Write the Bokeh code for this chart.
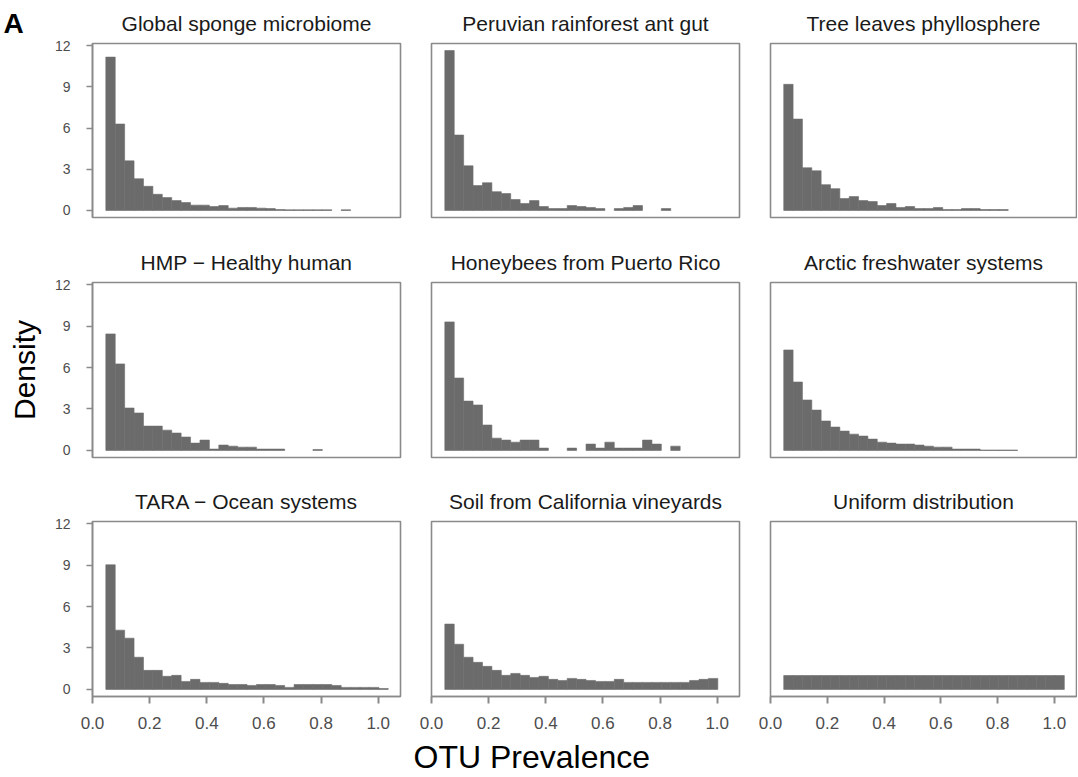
from bokeh.plotting import figure
from bokeh.layouts import row, column
from bokeh.models import Range1d, FixedTicker, PrintfTickFormatter
from bokeh.embed import file_html
from bokeh.resources import INLINE

# ---- data ----
panel_titles = [
    "Global sponge microbiome", "Peruvian rainforest ant gut", "Tree leaves phyllosphere",
    "HMP \u2212 Healthy human", "Honeybees from Puerto Rico", "Arctic freshwater systems",
    "TARA \u2212 Ocean systems", "Soil from California vineyards", "Uniform distribution",
]
bin_start = 0.0466
bin_width = 0.03295
n_bins = 30

sponge = [11.16, 6.29, 3.61, 2.31, 1.76, 1.18, 0.94, 0.72, 0.58, 0.39, 0.39, 0.29, 0.36, 0.17, 0.22,
          0.22, 0.17, 0.14, 0.07, 0.05, 0.05, 0.05, 0.05, 0.05, 0.0, 0.05, 0.0, 0.0, 0.0, 0.0]
ant_gut = [11.64, 5.49, 3.25, 1.81, 2.02, 1.37, 1.23, 0.80, 0.51, 0.72, 0.29, 0.14, 0.14, 0.36, 0.29,
           0.22, 0.14, 0.0, 0.14, 0.22, 0.36, 0.0, 0.0, 0.14, 0.0, 0.0, 0.0, 0.0, 0.0, 0.0]
tree_leaves = [9.18, 6.65, 3.11, 2.89, 1.88, 1.59, 0.87, 1.01, 0.72, 0.65, 0.36, 0.51, 0.22, 0.29, 0.14,
               0.14, 0.22, 0.07, 0.07, 0.14, 0.14, 0.07, 0.07, 0.07, 0.0, 0.0, 0.0, 0.0, 0.0, 0.0]
hmp = [8.43, 6.26, 3.07, 2.71, 1.76, 1.76, 1.47, 1.26, 0.97, 0.53, 0.75, 0.10, 0.39, 0.31, 0.24,
       0.24, 0.10, 0.10, 0.10, 0.0, 0.0, 0.0, 0.07, 0.0, 0.0, 0.0, 0.0, 0.0, 0.0, 0.0]
honeybees = [9.30, 5.24, 3.57, 3.29, 1.84, 0.89, 0.75, 0.60, 0.75, 0.75, 0.17, 0.0, 0.0, 0.17, 0.0,
             0.46, 0.17, 0.60, 0.17, 0.17, 0.17, 0.75, 0.46, 0.0, 0.31, 0.0, 0.0, 0.0, 0.0, 0.0]
arctic = [7.27, 4.95, 3.65, 2.92, 2.13, 1.69, 1.40, 1.18, 1.04, 0.82, 0.60, 0.53, 0.46, 0.46, 0.39,
          0.31, 0.24, 0.24, 0.10, 0.10, 0.10, 0.03, 0.03, 0.03, 0.03, 0.0, 0.0, 0.0, 0.0, 0.0]
tara = [9.02, 4.29, 3.71, 2.33, 1.38, 1.38, 0.95, 1.02, 0.58, 0.73, 0.51, 0.51, 0.44, 0.36, 0.36,
        0.29, 0.36, 0.36, 0.29, 0.15, 0.36, 0.36, 0.36, 0.36, 0.29, 0.15, 0.15, 0.15, 0.15, 0.07]
soil = [4.73, 3.27, 2.33, 1.96, 1.67, 1.38, 1.02, 1.16, 1.02, 0.87, 0.95, 0.73, 0.65, 0.80, 0.73,
        0.65, 0.58, 0.58, 0.73, 0.51, 0.51, 0.51, 0.51, 0.51, 0.51, 0.51, 0.65, 0.73, 0.80, 0.0]
uniform = [1.01] * 30

densities = [sponge, ant_gut, tree_leaves, hmp, honeybees, arctic, tara, soil, uniform]
y_ticks = [0, 3, 6, 9, 12]
x_ticks = [0.0, 0.2, 0.4, 0.6, 0.8, 1.0]

# ---- layout ----
BAR = "#6b6b6b"
BORDER = "#8a8a8a"
A_W = 30
col_params = [(92, 308, 15), (16, 308, 15), (16, 306, 1)]   # left border, frame width, right border
row_params = [(42, 175, 20), (45, 175, 19), (45, 175, 40)]  # top border, frame height, bottom border

edges = [bin_start + i * bin_width for i in range(n_bins + 1)]


def blank_fig(w, h, text, size, bold, offset, standoff):
    f = figure(width=w, height=h, output_backend="svg", toolbar_location=None, tools="",
               min_border_left=0, min_border_right=0, min_border_top=0, min_border_bottom=0,
               x_axis_location=None, y_axis_location=None,
               x_range=Range1d(0, 1), y_range=Range1d(0, 1))
    f.title.text = text
    f.title.align = "left"
    f.title.offset = offset
    f.title.standoff = standoff
    f.title.text_font = "Liberation Sans"
    f.title.text_font_size = size
    f.title.text_font_style = "bold" if bold else "normal"
    f.title.text_color = "black"
    f.grid.visible = False
    f.outline_line_color = None
    f.background_fill_color = "white"
    f.border_fill_color = "white"
    return f


rows = []
for r in range(3):
    figs = []
    for c in range(3):
        k = r * 3 + c
        bl, fw, br = col_params[c]
        if r == 0 and c == 0:
            bl -= A_W
        bt, fh, bb = row_params[r]
        p = figure(width=bl + fw + br, height=bt + fh + bb,
                   x_range=Range1d(0.0, 1.078), y_range=Range1d(-0.51, 12.15),
                   output_backend="svg", toolbar_location=None, tools="",
                   min_border_left=bl, min_border_right=br,
                   min_border_top=bt, min_border_bottom=bb,
                   x_axis_location="below" if r == 2 else None,
                   y_axis_location="left" if c == 0 else None)
        p.title.text = panel_titles[k]
        p.title.align = "center"
        p.title.text_font = "Liberation Sans"
        p.title.text_font_size = "21px"
        p.title.text_font_style = "normal"
        p.title.text_color = "#1a1a1a"
        p.title.standoff = 17
        p.grid.visible = False
        p.outline_line_color = BORDER
        p.outline_line_width = 1.6
        p.background_fill_color = "white"
        p.border_fill_color = "white"

        d = densities[k]
        left = [edges[i] for i in range(n_bins) if d[i] > 0]
        right = [edges[i + 1] for i in range(n_bins) if d[i] > 0]
        top = [d[i] for i in range(n_bins) if d[i] > 0]
        p.quad(left=left, right=right, top=top, bottom=0, fill_color=BAR,
               line_color=BAR, line_width=0.6)

        if c == 0:
            ax = p.yaxis[0]
            ax.ticker = FixedTicker(ticks=y_ticks)
            ax.axis_line_color = BORDER
            ax.axis_line_width = 1.6
            ax.major_tick_line_color = BORDER
            ax.major_tick_line_width = 1.6
            ax.major_tick_out = 6
            ax.major_tick_in = 0
            ax.minor_tick_line_color = None
            ax.major_label_text_font = "Liberation Sans"
            ax.major_label_text_font_size = "14px"
            ax.major_label_text_color = "#4d4d4d"
            ax.major_label_standoff = 16
            if r == 1:
                ax.axis_label = "Density"
                ax.axis_label_text_font = "Liberation Sans"
                ax.axis_label_text_font_size = "30px"
                ax.axis_label_text_font_style = "normal"
                ax.axis_label_text_color = "black"
                ax.axis_label_standoff = 11
        if r == 2:
            ax = p.xaxis[0]
            ax.ticker = FixedTicker(ticks=x_ticks)
            ax.formatter = PrintfTickFormatter(format="%.1f")
            ax.axis_line_color = BORDER
            ax.axis_line_width = 1.6
            ax.major_tick_line_color = BORDER
            ax.major_tick_line_width = 2
            ax.major_tick_out = 7
            ax.major_tick_in = 0
            ax.minor_tick_line_color = None
            ax.major_label_text_font = "Liberation Sans"
            ax.major_label_text_font_size = "17px"
            ax.major_label_text_color = "#4d4d4d"
            ax.major_label_standoff = 13
        figs.append(p)
    rows.append(figs)

# panel tag "A" and overall x-axis title
fig_a = blank_fig(A_W, sum(row_params[0]), "A", "28px", True, 3, 10)
total_w = sum(sum(cp) for cp in col_params)
fig_xlab = blank_fig(total_w, 38, "OTU Prevalence", "32px", False, 413, 0)

layout = column(row(fig_a, *rows[0]), row(*rows[1]), row(*rows[2]), fig_xlab)
open("out.html", "w").write(file_html(layout, INLINE))
